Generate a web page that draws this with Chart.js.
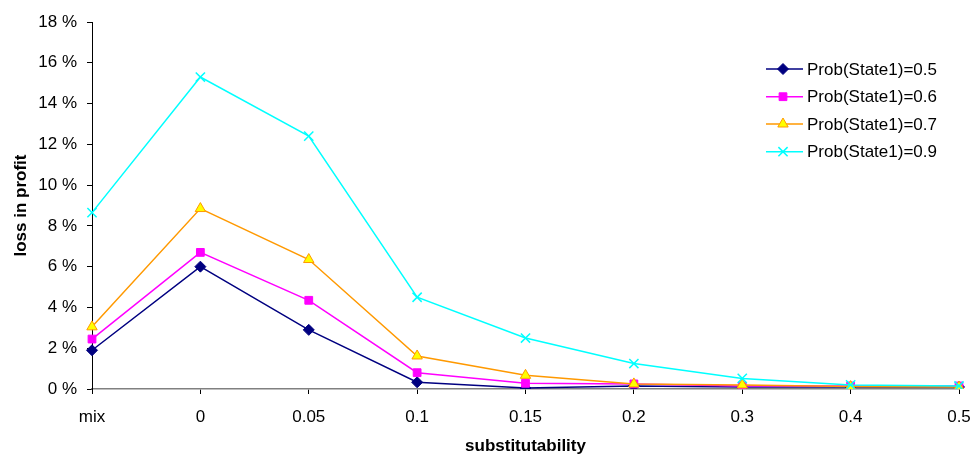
<!DOCTYPE html>
<html>
<head>
<meta charset="utf-8">
<script src="https://cdn.jsdelivr.net/npm/chart.js@4.4.0/dist/chart.umd.min.js"></script>
<style>
html,body{margin:0;padding:0;background:#fff;}
#wrap{width:973px;height:455px;position:relative;}
</style>
</head>
<body>
<div id="wrap"><canvas id="c" width="973" height="455"></canvas></div>
<script>
const categories = ['mix','0','0.05','0.1','0.15','0.2','0.3','0.4','0.5'];
const seriesNames = ['Prob(State1)=0.5','Prob(State1)=0.6','Prob(State1)=0.7','Prob(State1)=0.9'];
const prob05 = [1.9, 6.0, 2.9, 0.33, 0.05, 0.15, 0.1, 0.1, 0.1];
const prob06 = [2.45, 6.7, 4.35, 0.8, 0.28, 0.25, 0.15, 0.15, 0.15];
const prob07 = [3.05, 8.85, 6.35, 1.62, 0.67, 0.25, 0.2, 0.12, 0.1];
const prob09 = [8.65, 15.3, 12.4, 4.5, 2.5, 1.25, 0.52, 0.2, 0.15];
const yTicks = [0,2,4,6,8,10,12,14,16,18];

const FONT = 'Liberation Sans, Arial, sans-serif';

const styles = [
  {color:'#000080', fill:'#000080', point:'rectRot', r:5.5, bw:1},
  {color:'#FF00FF', fill:'#FF00FF', point:'rect', r:5.5, bw:1},
  {color:'#FF9900', fill:'#FFFF00', point:'triangle', r:6, bw:1},
  {color:'#00FFFF', fill:'#00FFFF', point:'crossRot', r:6.5, bw:1.5}
];
const values = [prob05, prob06, prob07, prob09];

const datasets = values.map((v,i)=>({
  label: seriesNames[i],
  data: v,
  borderColor: styles[i].color,
  backgroundColor: styles[i].fill,
  pointBackgroundColor: styles[i].fill,
  pointBorderColor: styles[i].color,
  pointStyle: styles[i].point,
  pointRadius: styles[i].r,
  pointBorderWidth: styles[i].bw,
  borderWidth: 1.5,
  tension: 0,
  fill: false,
  order: 3 - i
}));

const legendPlugin = {
  id: 'customLegend',
  afterDraw(chart) {
    const ctx = chart.ctx;
    const x0 = 766, x1 = 803, xm = 783, xt = 807;
    const ys = [69, 96.7, 124, 151.7];
    ctx.save();
    chart.data.datasets.forEach((ds, i) => {
      const y = ys[i];
      ctx.strokeStyle = ds.borderColor;
      ctx.lineWidth = 1.5;
      ctx.beginPath();
      ctx.moveTo(x0, y); ctx.lineTo(x1, y); ctx.stroke();
      ctx.fillStyle = ds.pointBackgroundColor;
      ctx.strokeStyle = ds.pointBorderColor;
      ctx.lineWidth = ds.pointBorderWidth;
      Chart.helpers.drawPoint(ctx, {pointStyle: ds.pointStyle, radius: ds.pointRadius, rotation: 0, borderWidth: ds.pointBorderWidth}, xm, y);
      ctx.fillStyle = '#000';
      ctx.font = '17px ' + FONT;
      ctx.textAlign = 'left';
      ctx.textBaseline = 'middle';
      ctx.fillText(ds.label, xt, y + 1);
    });
    ctx.restore();
  }
};

new Chart(document.getElementById('c'), {
  type: 'line',
  data: { labels: categories, datasets },
  options: {
    responsive: false,
    animation: false,
    events: [],
    layout: { padding: { left: 0, right: 14, top: 22, bottom: 0 } },
    plugins: { legend: { display: false }, tooltip: { enabled: false } },
    scales: {
      x: {
        offset: false,
        grid: { display: true, drawOnChartArea: false, drawTicks: true, tickLength: 5, color: '#000', lineWidth: 1 },
        border: { display: true, color: '#808080', width: 1.5 },
        ticks: { color: '#000', font: { family: FONT, size: 17 }, padding: 13, maxRotation: 0, autoSkip: false },
        title: { display: true, text: 'substitutability', color: '#000', font: { family: FONT, size: 17, weight: 'bold' }, padding: { top: 0, bottom: -2 } },
        afterFit(scale) { scale.height = 66; scale.paddingRight = 10; scale.paddingLeft = 10; }
      },
      y: {
        min: 0, max: 18,
        afterBuildTicks(scale) { scale.ticks = yTicks.map(v => ({ value: v })); },
        grid: { display: true, drawOnChartArea: false, drawTicks: true, tickLength: 5, color: '#000', lineWidth: 1 },
        border: { display: true, color: '#000', width: 1 },
        ticks: { color: '#000', font: { family: FONT, size: 17 }, padding: 10, callback: v => v + ' %' },
        title: { display: true, text: 'loss in profit', color: '#000', font: { family: FONT, size: 17, weight: 'bold' }, padding: { top: 11, bottom: 0 } },
        afterFit(scale) { scale.width = 92; }
      }
    }
  },
  plugins: [legendPlugin]
});
</script>
</body>
</html>
